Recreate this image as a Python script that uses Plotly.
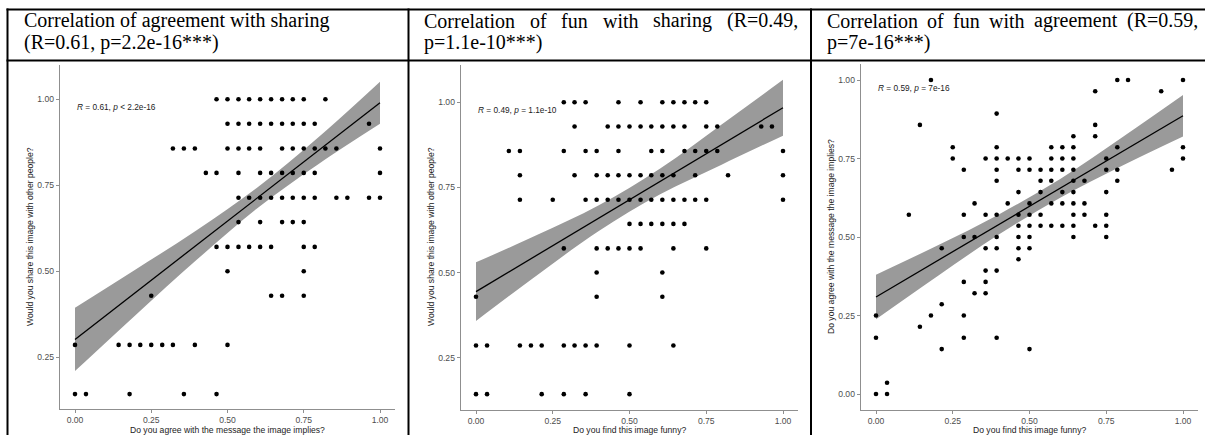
import plotly.graph_objects as go

W, H = 1205, 435

# ---------------- data ----------------
# Panel 1: agreement (x) vs sharing (y)
agree_share_x = [0.464, 0.500, 0.536, 0.571, 0.607, 0.643, 0.679, 0.714, 0.750, 0.821,
                 0.500, 0.536, 0.571, 0.607, 0.643, 0.679, 0.714, 0.750, 0.786, 0.964,
                 0.321, 0.357, 0.393, 0.500, 0.536, 0.571, 0.607, 0.679, 0.714, 0.750, 0.786, 0.821, 0.857, 1.000,
                 0.429, 0.464, 0.536, 0.607, 0.643, 0.679, 0.714, 0.750, 0.786, 1.000,
                 0.536, 0.571, 0.607, 0.643, 0.679, 0.714, 0.750, 0.786, 0.857, 0.893, 0.964, 1.000,
                 0.536, 0.607, 0.679, 0.714, 0.750,
                 0.464, 0.500, 0.536, 0.571, 0.607, 0.643, 0.750, 0.786,
                 0.500, 0.750,
                 0.250, 0.643, 0.679, 0.750,
                 0.000, 0.143, 0.179, 0.214, 0.250, 0.286, 0.321, 0.393, 0.500,
                 0.000, 0.036, 0.179, 0.357, 0.464]
agree_share_y = ([1.000] * 10 + [0.929] * 10 + [0.857] * 14 + [0.786] * 10 + [0.714] * 12 +
                 [0.643] * 5 + [0.571] * 8 + [0.500] * 2 + [0.429] * 4 + [0.286] * 9 + [0.143] * 5)

# Panel 2: fun (x) vs sharing (y)
fun_share_x = [0.286, 0.321, 0.357, 0.464, 0.536, 0.607, 0.643, 0.679, 0.714, 0.750,
               0.321, 0.429, 0.464, 0.500, 0.536, 0.571, 0.607, 0.643, 0.679, 0.750, 0.786, 0.929, 0.964,
               0.107, 0.143, 0.286, 0.357, 0.393, 0.464, 0.571, 0.607, 0.679, 0.714, 0.750, 0.786, 1.000,
               0.143, 0.321, 0.393, 0.429, 0.464, 0.500, 0.536, 0.571, 0.607, 0.643, 0.714, 0.821, 1.000,
               0.143, 0.250, 0.357, 0.393, 0.429, 0.464, 0.500, 0.536, 0.571, 0.607, 0.643, 0.679, 0.714, 0.750, 1.000,
               0.500, 0.536, 0.571, 0.607, 0.643, 0.679,
               0.286, 0.393, 0.429, 0.464, 0.500, 0.536, 0.643, 0.750,
               0.393, 0.607,
               0.000, 0.393, 0.607,
               0.000, 0.036, 0.143, 0.179, 0.214, 0.286, 0.321, 0.357, 0.393, 0.500, 0.643,
               0.000, 0.036, 0.214, 0.286, 0.357, 0.500]
fun_share_y = ([1.000] * 10 + [0.929] * 13 + [0.857] * 13 + [0.786] * 13 + [0.714] * 15 +
               [0.643] * 6 + [0.571] * 8 + [0.500] * 2 + [0.429] * 3 + [0.286] * 11 + [0.143] * 6)

# Panel 3: fun (x) vs agreement (y)
fun_agree_x = [0.179, 0.786, 0.821, 1.000,
               0.714, 0.929,
               0.393,
               0.143, 0.714,
               0.643, 0.714,
               0.250, 0.393, 0.571, 0.607, 0.643, 0.786, 1.000,
               0.250, 0.357, 0.393, 0.429, 0.464, 0.500, 0.571, 0.607, 0.643, 0.750, 1.000,
               0.286, 0.393, 0.464, 0.500, 0.536, 0.571, 0.607, 0.643, 0.750, 0.786, 0.964,
               0.393, 0.536, 0.571, 0.643, 0.679, 0.786,
               0.464, 0.536, 0.607, 0.643, 0.750,
               0.321, 0.429, 0.500, 0.571, 0.607, 0.643, 0.679,
               0.107, 0.286, 0.357, 0.393, 0.464, 0.500, 0.536, 0.643, 0.679, 0.750,
               0.464, 0.500, 0.536, 0.571, 0.607, 0.643, 0.714, 0.750,
               0.286, 0.321, 0.393, 0.464, 0.500, 0.643, 0.750,
               0.214, 0.357, 0.393, 0.464, 0.500,
               0.464,
               0.357, 0.393,
               0.286, 0.357,
               0.321, 0.357,
               0.214,
               0.000, 0.179, 0.286,
               0.143,
               0.000, 0.286, 0.393,
               0.214, 0.500,
               0.036,
               0.000, 0.036]
fun_agree_y = ([1.000] * 4 + [0.964] * 2 + [0.893] * 1 + [0.857] * 2 + [0.821] * 2 + [0.786] * 7 +
               [0.750] * 11 + [0.714] * 11 + [0.679] * 6 + [0.643] * 5 + [0.607] * 7 + [0.571] * 10 +
               [0.536] * 8 + [0.500] * 7 + [0.464] * 5 + [0.429] * 1 + [0.393] * 2 + [0.357] * 2 +
               [0.321] * 2 + [0.286] * 1 + [0.250] * 3 + [0.214] * 1 + [0.179] * 3 + [0.143] * 2 +
               [0.036] * 1 + [0.000] * 2)

# regression line and 95% band
band_x = [0.0, 0.2, 0.4, 0.6, 0.8, 1.0]
agree_share_fit = [0.302, 0.440, 0.577, 0.715, 0.852, 0.990]
agree_share_lo = [0.210, 0.374, 0.534, 0.685, 0.813, 0.929]
agree_share_hi = [0.394, 0.506, 0.620, 0.745, 0.891, 1.051]
fun_share_fit = [0.444, 0.552, 0.660, 0.768, 0.876, 0.984]
fun_share_lo = [0.358, 0.493, 0.622, 0.730, 0.817, 0.902]
fun_share_hi = [0.530, 0.611, 0.698, 0.806, 0.935, 1.066]
fun_agree_fit = [0.309, 0.424, 0.540, 0.655, 0.771, 0.886]
fun_agree_lo = [0.238, 0.375, 0.508, 0.625, 0.726, 0.820]
fun_agree_hi = [0.380, 0.473, 0.572, 0.685, 0.816, 0.952]

tick_vals = [0.0, 0.25, 0.5, 0.75, 1.0]
tick_text = ["0.00", "0.25", "0.50", "0.75", "1.00"]

titles_line1 = ["Correlation of agreement with sharing",
                "Correlation of fun with sharing (R=0.49,",
                "Correlation of fun with agreement (R=0.59,"]
titles_line2 = ["(R=0.61, p=2.2e-16***)", "p=1.1e-10***)", "p=7e-16***)"]
stat_labels = ["<i>R</i> = 0.61, <i>p</i> &lt; 2.2e-16",
               "<i>R</i> = 0.49, <i>p</i> = 1.1e-10",
               "<i>R</i> = 0.59, <i>p</i> = 7e-16"]
x_titles = ["Do you agree with the message the image implies?",
            "Do you find this image funny?",
            "Do you find this image funny?"]
y_titles = ["Would you share this image with other people?",
            "Would you share this image with other people?",
            "Do you agree with the message the image implies?"]

# ---------------- layout helpers ----------------
def px_x(p):
    return p / W

def px_y(p):
    return 1 - p / H

panels = [
    dict(x=agree_share_x, y=agree_share_y, fit=agree_share_fit, lo=agree_share_lo, hi=agree_share_hi,
         xdom=(59.75, 395.25), ydom=(64.9, 408.9), yr=(0.1, 1.1), stat_y=0.978,
         xt=(227.5, 430), yt=(30, 237)),
    dict(x=fun_share_x, y=fun_share_y, fit=fun_share_fit, lo=fun_share_lo, hi=fun_share_hi,
         xdom=(460.65, 798.35), ydom=(65.2, 409.8), yr=(0.097, 1.109), stat_y=0.977,
         xt=(629.5, 430), yt=(431, 237)),
    dict(x=fun_agree_x, y=fun_agree_y, fit=fun_agree_fit, lo=fun_agree_lo, hi=fun_agree_hi,
         xdom=(860.65, 1198.35), ydom=(64.3, 409.7), yr=(-0.05, 1.05), stat_y=0.974,
         xt=(1029.5, 430), yt=(831, 237)),
]

fig = go.Figure()
annotations = []
AX_COL = "#8f8f8f"
TICK_FONT = dict(family="Liberation Sans, Arial", size=8.6, color="#4d4d4d")

for i, p in enumerate(panels):
    n = "" if i == 0 else str(i + 1)
    xa, ya = "x" + n, "y" + n
    # band
    fig.add_trace(go.Scatter(x=band_x, y=p["lo"], mode="lines", line=dict(width=0, shape="spline"),
                             xaxis=xa, yaxis=ya, showlegend=False, hoverinfo="skip"))
    fig.add_trace(go.Scatter(x=band_x, y=p["hi"], mode="lines", line=dict(width=0, shape="spline"),
                             fill="tonexty", fillcolor="#9a9a9a",
                             xaxis=xa, yaxis=ya, showlegend=False, hoverinfo="skip"))
    # points
    fig.add_trace(go.Scatter(x=p["x"], y=p["y"], mode="markers",
                             marker=dict(color="black", size=4.6),
                             xaxis=xa, yaxis=ya, showlegend=False))
    # fit line
    fig.add_trace(go.Scatter(x=band_x, y=p["fit"], mode="lines", line=dict(color="black", width=1.3),
                             xaxis=xa, yaxis=ya, showlegend=False))
    axis_common = dict(showline=True, linecolor=AX_COL, linewidth=1, ticks="outside", ticklen=3,
                       tickcolor=AX_COL, tickwidth=1, showgrid=False, zeroline=False,
                       tickvals=tick_vals, ticktext=tick_text, tickfont=TICK_FONT, fixedrange=True)
    fig.update_layout(**{
        ("xaxis" + n): dict(domain=[px_x(p["xdom"][0]), px_x(p["xdom"][1])], range=[-0.05, 1.05],
                            anchor=ya, **axis_common),
        ("yaxis" + n): dict(domain=[px_y(p["ydom"][1]), px_y(p["ydom"][0])], range=list(p["yr"]),
                            anchor=xa, **axis_common),
    })
    annotations.append(dict(x=0, y=p["stat_y"], xref=xa, yref=ya, text=stat_labels[i], showarrow=False,
                            xanchor="left", yanchor="middle",
                            font=dict(family="Liberation Sans, Arial", size=8.3, color="#222")))
    annotations.append(dict(x=px_x(p["xt"][0]), y=px_y(p["xt"][1]), xref="paper", yref="paper",
                            text=x_titles[i], showarrow=False, xanchor="center", yanchor="middle",
                            font=dict(family="Liberation Sans, Arial", size=8.6, color="#222")))
    annotations.append(dict(x=px_x(p["yt"][0]), y=px_y(p["yt"][1]), xref="paper", yref="paper",
                            text=y_titles[i], showarrow=False, textangle=-90,
                            xanchor="center", yanchor="middle",
                            font=dict(family="Liberation Sans, Arial", size=8.6, color="#222")))

# ---------------- table titles ----------------
TW = {"C": 667, "o": 500, "r": 333, "e": 444, "l": 278, "a": 444, "t": 278, "i": 278, "n": 500,
      "f": 333, "u": 500, "w": 722, "h": 500, "s": 389, "g": 500, "m": 778, "(": 333, ")": 333,
      "R": 667, "=": 564, ".": 250, ",": 250, "p": 500, " ": 250, "-": 333, "*": 500}

def tw(s, size):
    return sum(TW.get(c, 500) for c in s) / 1000 * size

TFS = 20
TFONT = dict(family="Liberation Serif, Times New Roman", size=TFS, color="black")
LINE1_Y, LINE2_Y = 20.6, 42.7

def justified(text, x0, x1, y):
    words = text.split(" ")
    widths = [tw(w, TFS) for w in words]
    gap = (x1 - x0 - sum(widths)) / (len(words) - 1)
    x = x0
    for w, wd in zip(words, widths):
        annotations.append(dict(x=px_x(x), y=px_y(y), xref="paper", yref="paper", text=w,
                                showarrow=False, xanchor="left", yanchor="middle", font=TFONT))
        x += wd + gap

title_x = [22, 422, 825]
annotations.append(dict(x=px_x(title_x[0]), y=px_y(LINE1_Y), xref="paper", yref="paper",
                        text=titles_line1[0], showarrow=False, xanchor="left", yanchor="middle", font=TFONT))
justified(titles_line1[1], title_x[1], 796, LINE1_Y)
justified(titles_line1[2], title_x[2], 1196, LINE1_Y)
for i in range(3):
    annotations.append(dict(x=px_x(title_x[i]), y=px_y(LINE2_Y), xref="paper", yref="paper",
                            text=titles_line2[i], showarrow=False, xanchor="left", yanchor="middle",
                            font=TFONT))

# table borders
shapes = []
def hline(y, x0, x1):
    shapes.append(dict(type="line", xref="paper", yref="paper", x0=px_x(x0), x1=px_x(x1),
                       y0=px_y(y), y1=px_y(y), line=dict(color="black", width=2)))
def vline(x, y0, y1):
    shapes.append(dict(type="line", xref="paper", yref="paper", x0=px_x(x), x1=px_x(x),
                       y0=px_y(y0), y1=px_y(y1), line=dict(color="black", width=2)))
hline(9.5, 6.5, 1205)
hline(60.5, 6.5, 1205)
vline(7.5, 8.5, 435)
vline(408.5, 8.5, 435)
vline(811, 8.5, 435)

fig.update_layout(width=W, height=H, margin=dict(l=0, r=0, t=0, b=0),
                  paper_bgcolor="white", plot_bgcolor="white",
                  annotations=annotations, shapes=shapes, showlegend=False)

fig.write_html("out.html")
